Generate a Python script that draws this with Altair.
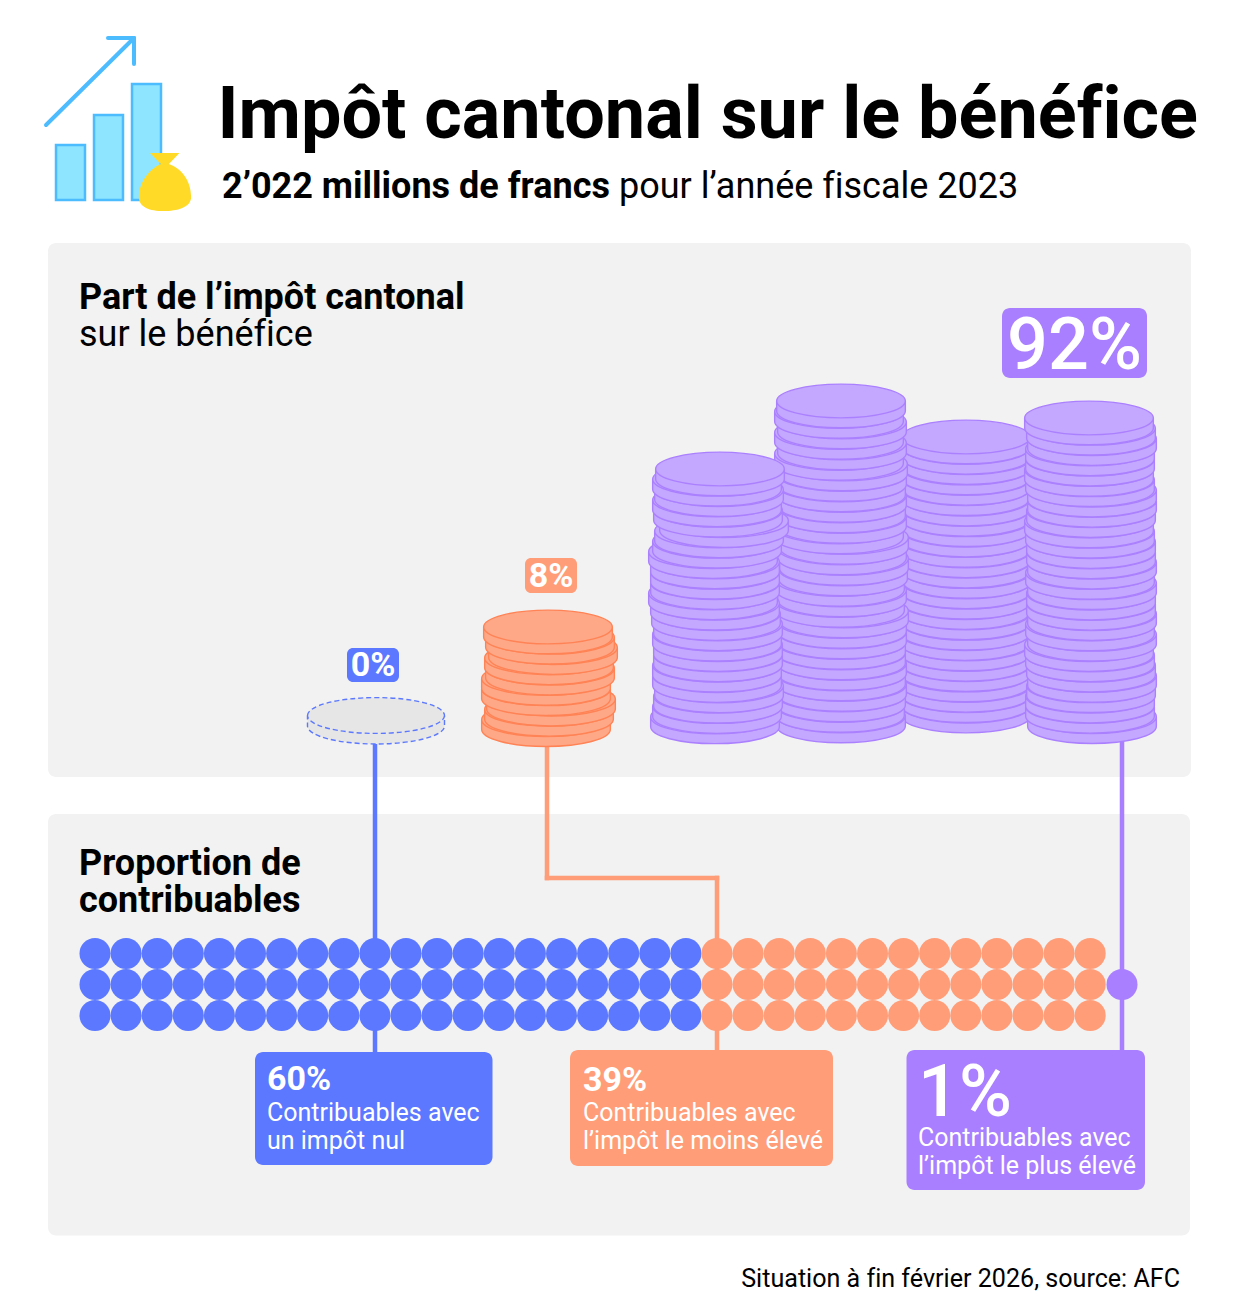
import altair as alt
import pandas as pd

# ---- values ----
ZW = "\u200c"  # keeps f + i apart, as in the reference's lettering
title_text = f"Impôt cantonal sur le bénéf{ZW}ice"
subtitle_bold = "2’022 millions de francs"
subtitle_regular = f"pour l’année f{ZW}iscale 2023"
heading_top = ["Part de l’impôt cantonal", f"sur le bénéf{ZW}ice"]
heading_bottom = ["Proportion de", "contribuables"]
footer = f"Situation à f{ZW}in février 2026, source: AFC"

tax_share = {"blue": "0%", "orange": "8%", "purple": "92%"}
taxpayer_cols = {"blue": 20, "orange": 13}   # three rows each: 60 + 39 dots, plus 1 purple

BLUE, ORANGE, PURPLE = "#5b78ff", "#ff9d78", "#a97eff"

# coin centre per coin, top of the stack first
stack1 = [720,717,719,717,718,724,719,717,713,715,715,715,713,715,716,718,717,718,718,717,717,719,718,717,715]
stack2 = [841,839,842,839,842,839,843,842,841,842,841,842,839,844,842,844,843,840,842,840,844,842,842,841,841,842,841,842,841,840,841]
stack3 = [966,966,967,966,966,965,966,966,967,966,965,966,966,967,966,966,965,966,966,965,966,966,966,965,966,966,966]
stack4 = [1089,1091,1092,1090,1090,1089,1090,1092,1092,1091,1089,1090,1091,1091,1092,1090,1092,1091,1091,1092,1090,1092,1089,1090,1091,1092,1091,1090,1090,1092]
stack_o = [548,550,553,549,550,546,546,551,549,546]
stack_tops = {"s1": 469, "s2": 401, "s3": 437, "s4": 418, "so": 627}
stack_step = {"s1": 10.33, "s2": 10.5, "s3": 10.35, "s4": 10.3, "so": 10.3}

# ---- scales: one shared page-pixel frame ----
X = alt.Scale(domain=[8, 1226], nice=False, zero=False)
Y = alt.Scale(domain=[1305, 8], nice=False, zero=False)
NA = None


def xc(f="x"):
    return alt.X(f"{f}:Q", scale=X, axis=NA)


def yc(f="y"):
    return alt.Y(f"{f}:Q", scale=Y, axis=NA)


def rect(x, x2, y, y2, color, radius=0, **kw):
    d = pd.DataFrame([{"x": x, "x2": x2, "y": y, "y2": y2}])
    return alt.Chart(d).mark_rect(color=color, cornerRadius=radius, **kw).encode(
        x=xc(), x2="x2:Q", y=yc(), y2="y2:Q")


def seg(x, y, x2, y2, color, width=4.5, cap="square"):
    d = pd.DataFrame([{"x": x, "x2": x2, "y": y, "y2": y2}])
    return alt.Chart(d).mark_rule(color=color, strokeWidth=width, strokeCap=cap).encode(
        x=xc(), x2="x2:Q", y=yc(), y2="y2:Q")


def txt(s, x, y, size, color="#000000", weight=400, align="left"):
    d = pd.DataFrame([{"x": x, "y": y, "t": s}])
    return alt.Chart(d).mark_text(font="Roboto", fontSize=size, fontWeight=weight, color=color,
                                  align=align, baseline="alphabetic").encode(
        x=xc(), y=yc(), text="t:N")


COIN = ("M-1,0 A1,.2615 0 0 1 1,0 V.154 A1,.2615 0 0 1 -1,.154 Z "
        "M1,0 A1,.2615 0 0 1 -1,0")


def coins(xs, key, fill, stroke):
    rows = [{"x": v, "y": stack_tops[key] + i * stack_step[key]} for i, v in enumerate(xs)]
    return alt.Chart(pd.DataFrame(rows[::-1])).mark_point(
        shape=COIN, filled=True, fill=fill, stroke=stroke, strokeWidth=1.4,
        size=128.7 ** 2, opacity=1).encode(x=xc(), y=yc())


layers = []
# panels
layers += [rect(48, 1191, 243, 777, "#f2f2f2", 8), rect(48, 1190, 814, 1235.5, "#f2f2f2", 8)]

# icon
for x0, x1, y0 in [(56, 85, 145), (94, 123, 115), (132, 161, 84)]:
    layers.append(rect(x0, x1, y0, 200, "#8ee5ff", 0, stroke="#4cbcff", strokeWidth=2.5))
layers += [seg(46, 125, 134, 38, "#4cbcff", 4, "round"),
           seg(108, 38, 134, 38, "#4cbcff", 4, "round"),
           seg(134, 38, 134, 64, "#4cbcff", 4, "round")]
BAG = ("M-.5,-.97 L.48,-.97 L.13,-.6 C.55,-.45 .87,-.05 .87,.5 C.87,.85 .4,.97 -.05,.97 "
       "C-.5,.97 -.87,.85 -.87,.5 C-.87,0 -.5,-.45 -.14,-.6 Z")
layers.append(alt.Chart(pd.DataFrame([{"x": 165, "y": 182}])).mark_point(
    shape=BAG, filled=True, fill="#ffda27", size=3600, opacity=1).encode(x=xc(), y=yc()))

# connectors
layers += [seg(375, 735, 375, 1052, BLUE),
           seg(547, 745, 547, 878, ORANGE), seg(547, 878, 717, 878, ORANGE), seg(717, 878, 717, 1050, ORANGE),
           seg(1122, 740, 1122, 1050, PURPLE)]

# coins
layers.append(alt.Chart(pd.DataFrame([{"x": 376, "y": 715.5}])).mark_point(
    shape=COIN, filled=True, fill="#e6e6e6", stroke=BLUE, strokeWidth=1.4, strokeDash=[5, 3],
    size=137 ** 2, opacity=1).encode(x=xc(), y=yc()))
layers.append(coins(stack_o, "so", "#ffa888", "#ff8355"))
P_FILL, P_STROKE = "#c4a8ff", "#ab80ff"
layers += [coins(stack3, "s3", P_FILL, P_STROKE), coins(stack2, "s2", P_FILL, P_STROKE),
           coins(stack1, "s1", P_FILL, P_STROKE), coins(stack4, "s4", P_FILL, P_STROKE)]

# dots
dots = []
for row in range(3):
    for c in range(taxpayer_cols["blue"]):
        dots.append({"x": 95 + c * 31.1, "y": 953.5 + row * 31, "c": BLUE})
    for c in range(taxpayer_cols["blue"], taxpayer_cols["blue"] + taxpayer_cols["orange"]):
        dots.append({"x": 95 + c * 31.1, "y": 953.5 + row * 31, "c": ORANGE})
dots.append({"x": 1122, "y": 984.5, "c": PURPLE})
layers.append(alt.Chart(pd.DataFrame(dots)).mark_point(
    shape="circle", filled=True, size=961, opacity=1).encode(
    x=xc(), y=yc(), color=alt.Color("c:N", scale=None, legend=None)))

# boxes
layers += [rect(1002, 1147, 308, 378, PURPLE, 8), rect(525, 577, 558, 593, ORANGE, 6),
           rect(347, 399, 648, 682, BLUE, 6),
           rect(255, 492.5, 1052, 1165, BLUE, 8), rect(570, 833, 1050, 1166, ORANGE, 8),
           rect(906.5, 1145, 1050, 1190, PURPLE, 8)]

# text
W = "#ffffff"
layers += [
    txt(title_text, 217.5, 138, 72, weight=700),
    txt(subtitle_bold, 222, 197.5, 36, weight=700),
    txt(subtitle_regular, 619, 197.5, 36),
    txt(heading_top[0], 79, 308.5, 36, weight=700),
    txt(heading_top[1], 79, 345.5, 36),
    txt(heading_bottom[0], 79, 874.5, 36, weight=700),
    txt(heading_bottom[1], 79, 911.5, 36, weight=700),
    txt(tax_share["purple"], 1074.5, 369, 72, W, 500, "center"),
    txt(tax_share["orange"], 551, 587, 34, W, 700, "center"),
    txt(tax_share["blue"], 373, 676, 34, W, 700, "center"),
    txt("60%", 267, 1090, 34, W, 700),
    txt("Contribuables avec", 267, 1121, 25, W),
    txt("un impôt nul", 267, 1149, 25, W),
    txt("39%", 583, 1091, 34, W, 700),
    txt("Contribuables avec", 583, 1121, 25, W),
    txt("l’impôt le moins élevé", 583, 1149, 25, W),
    txt("1%", 918, 1116, 72, W, 500),
    txt("Contribuables avec", 918, 1146, 25, W),
    txt("l’impôt le plus élevé", 918, 1174, 25, W),
    txt(footer, 1180, 1287, 25.1, align="right"),
]

chart = alt.layer(*layers).properties(
    width=1218, height=1297, padding=0, background="#ffffff",
    autosize=alt.AutoSizeParams(type="none")
).configure_view(stroke=None)

chart.save("out.html", embed_options={"renderer": "svg", "actions": False})
